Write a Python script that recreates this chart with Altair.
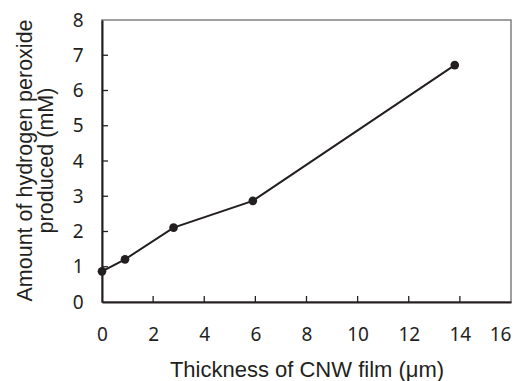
import altair as alt
import pandas as pd

thickness = [0, 0.9, 2.8, 5.9, 13.8]
h2o2 = [0.87, 1.21, 2.11, 2.87, 6.72]
x_tick_values = [0, 2, 4, 6, 8, 10, 12, 14, 16]
y_tick_values = [0, 1, 2, 3, 4, 5, 6, 7, 8]
x_inner_ticks = [2, 4, 6, 8, 10, 12, 14]
y_inner_ticks = [1, 2, 3, 4, 5, 6, 7]

df = pd.DataFrame({"x": thickness, "y": h2o2})
xt = pd.DataFrame({"v": x_inner_ticks})
yt = pd.DataFrame({"v": y_inner_ticks})

W, H = 409, 282
dark = "#231f20"

xscale = alt.Scale(domain=[0, 16], nice=False, zero=False)
yscale = alt.Scale(domain=[0, 8], nice=False, zero=False)

xaxis = alt.Axis(
    orient="bottom", values=x_tick_values, ticks=False, tickSize=0, grid=False,
    domainColor=dark, domainWidth=2,
    labelFont="Noto Sans", labelFontSize=19, labelColor=dark, labelPadding=23,
    labelAlign=alt.expr("datum.value == 16 ? 'right' : 'center'"),
    labelFlush=False, labelOverlap=False,
    title="Thickness of CNW film (μm)", titleFont="Liberation Sans",
    titleFontSize=22, titleFontWeight="normal", titleColor=dark,
    titleBaseline="alphabetic", titleY=74, titleAnchor="middle",
)
yaxis = alt.Axis(
    orient="left", offset=0, values=y_tick_values, ticks=False, tickSize=0, grid=False,
    domainColor=dark, domainWidth=2,
    labelFont="Noto Sans", labelFontSize=19, labelColor=dark, labelPadding=19,
    labelAlign="right", labelBaseline="middle",
    labelFlush=False, labelOverlap=False,
    title=["Amount of hydrogen peroxide", "produced (mM)"],
    titleFont="Liberation Sans", titleFontSize=21.5, titleFontWeight="normal",
    titleColor=dark, titleAngle=-90, titleBaseline="alphabetic",
    titleAlign="center", titleLineHeight=21.5, titleX=-71, titleY=140,
)

line = alt.Chart(df).mark_line(color=dark, strokeWidth=2).encode(
    x=alt.X("x:Q", scale=xscale, axis=xaxis),
    y=alt.Y("y:Q", scale=yscale, axis=yaxis),
)
pts = alt.Chart(df).mark_point(filled=True, color=dark, size=75, opacity=1).encode(
    x=alt.X("x:Q", scale=xscale, axis=xaxis),
    y=alt.Y("y:Q", scale=yscale, axis=yaxis),
)
xticks = alt.Chart(xt).mark_rule(color=dark, strokeWidth=1.3).encode(
    x=alt.X("v:Q", scale=xscale, axis=xaxis),
    y=alt.value(H),
    y2=alt.value(H - 6),
)
yticks = alt.Chart(yt).mark_rule(color=dark, strokeWidth=1.3).encode(
    y=alt.Y("v:Q", scale=yscale, axis=yaxis),
    x=alt.value(0),
    x2=alt.value(6),
)

chart = alt.layer(line, pts, xticks, yticks).properties(
    width=W, height=H,
    autosize=alt.AutoSizeParams(type="none"),
    padding={"left": 94, "top": 12, "right": 5, "bottom": 80},
    background="white",
).configure_view(stroke="#808080", strokeWidth=1.5)

chart.save("out.html", embed_options={"renderer": "svg", "actions": False})
